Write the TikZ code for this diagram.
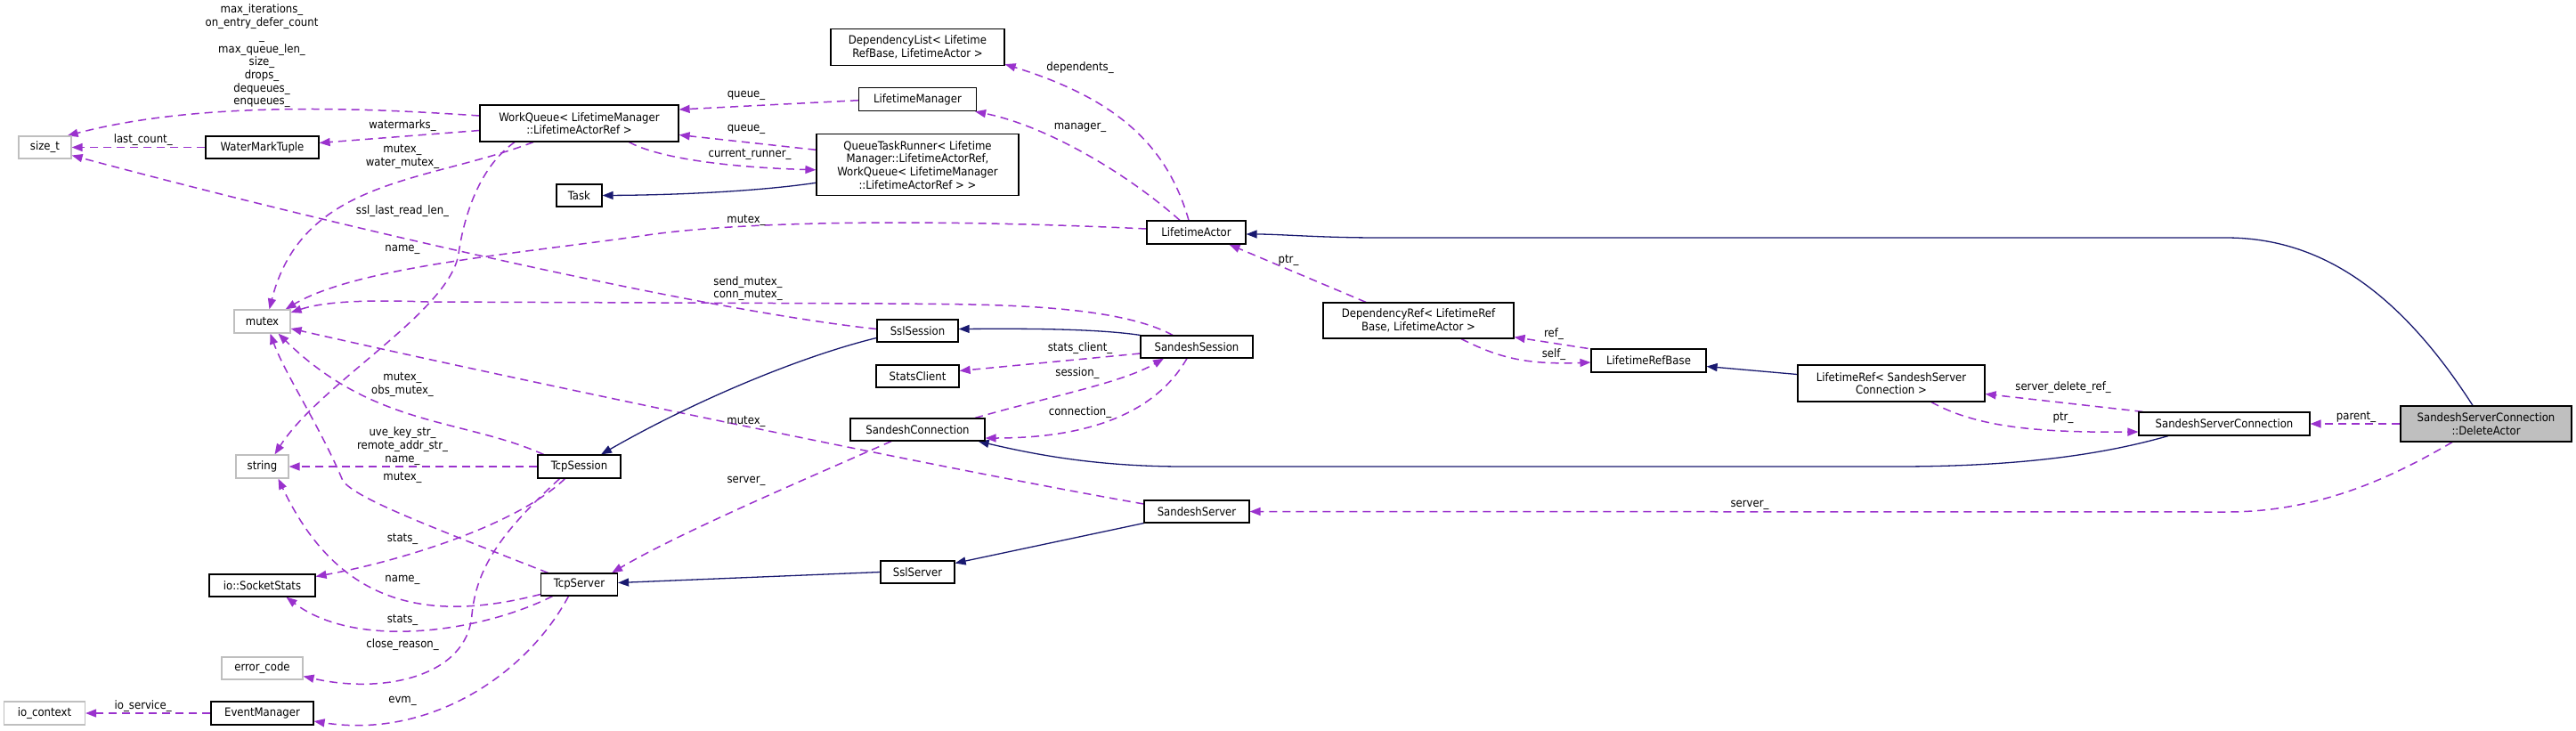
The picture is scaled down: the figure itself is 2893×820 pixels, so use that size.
\documentclass[tikz,border=0pt]{standalone}
\usepackage{fontspec}
\setmainfont{DejaVu Sans Condensed}
\usetikzlibrary{arrows.meta}
\definecolor{memc}{HTML}{9A32CD}
\definecolor{inhc}{HTML}{191970}
\definecolor{undoc}{HTML}{BFBFBF}
\pgfdeclarelayer{edges}
\pgfsetlayers{edges,main}
\begin{document}
\begin{tikzpicture}[x=1pt,y=-1pt,font=\fontsize{13}{14.7}\selectfont,
  cls/.style={draw=black,line width=1.2pt,fill=white,inner sep=0pt,align=center,text=black},
  und/.style={cls,draw=undoc},
  mem/.style={draw=memc,line width=1.5pt,dash pattern=on 9pt off 6pt,-{Triangle[length=12pt,width=9pt]}},
  inh/.style={draw=inhc,line width=1.3pt,-{Triangle[length=12pt,width=9pt]}},
  lbl/.style={inner sep=0pt,align=center,text=black}]
\useasboundingbox (0,0) rectangle (2893,820);
\begin{pgfonlayer}{edges}
\fill[white] (0,0) rectangle (2893,820);
\end{pgfonlayer}
% nodes
\node[und,minimum width=59pt,minimum height=25pt] (st) at (50.5,165.5) {size\_t};
\node[cls,minimum width=127pt,minimum height=25pt] (wmt) at (294.5,165.5) {WaterMarkTuple};
\node[cls,minimum width=223pt,minimum height=41pt] (wq) at (650.5,138.5) {WorkQueue< LifetimeManager\\::LifetimeActorRef >};
\node[cls,minimum width=51pt,minimum height=25pt] (task) at (650.5,219.5) {Task};
\node[und,minimum width=63pt,minimum height=26pt] (mtx) at (294.5,361) {mutex};
\node[und,minimum width=59pt,minimum height=26pt] (str) at (294.5,524) {string};
\node[cls,minimum width=93pt,minimum height=26pt] (tcps) at (650.5,524) {TcpSession};
\node[cls,minimum width=119pt,minimum height=25pt] (sock) at (294.5,657.5) {io::SocketStats};
\node[cls,minimum width=86pt,minimum height=25pt] (tcpsv) at (650.5,656.5) {TcpServer};
\node[und,minimum width=91pt,minimum height=25pt] (err) at (294.5,750.5) {error\_code};
\node[und,minimum width=91pt,minimum height=26pt] (ioc) at (50,801) {io\_context};
\node[cls,minimum width=115pt,minimum height=26pt] (evm) at (294.5,801) {EventManager};
\node[cls,minimum width=195pt,minimum height=41pt] (dl) at (1030.5,53) {DependencyList< Lifetime\\RefBase, LifetimeActor >};
\node[cls,minimum width=132pt,minimum height=26pt] (lm) at (1030.5,111.7) {LifetimeManager};
\node[cls,minimum width=227pt,minimum height=69pt] (qtr) at (1030.5,185.3) {QueueTaskRunner< Lifetime\\Manager::LifetimeActorRef,\\WorkQueue< LifetimeManager\\::LifetimeActorRef > >};
\node[cls,minimum width=111pt,minimum height=26pt] (la) at (1343.5,261) {LifetimeActor};
\node[cls,minimum width=91pt,minimum height=25pt] (ssl) at (1030.5,371.5) {SslSession};
\node[cls,minimum width=126pt,minimum height=25pt] (ss) at (1344,389.5) {SandeshSession};
\node[cls,minimum width=93pt,minimum height=25pt] (stc) at (1030.5,422.5) {StatsClient};
\node[cls,minimum width=151pt,minimum height=25pt] (sc) at (1030.5,482.5) {SandeshConnection};
\node[cls,minimum width=118pt,minimum height=25pt] (sserv) at (1344,574.5) {SandeshServer};
\node[cls,minimum width=83pt,minimum height=25pt] (sslsv) at (1030.5,642.5) {SslServer};
\node[cls,minimum width=214pt,minimum height=40pt] (dr) at (1593,360) {DependencyRef< LifetimeRef\\Base, LifetimeActor >};
\node[cls,minimum width=129pt,minimum height=26pt] (lrb) at (1851.5,405) {LifetimeRefBase};
\node[cls,minimum width=210pt,minimum height=41pt] (lr) at (2124,430.5) {LifetimeRef< SandeshServer\\Connection >};
\node[cls,minimum width=192pt,minimum height=26pt] (ssc) at (2498,476) {SandeshServerConnection};
\node[cls,fill=undoc,minimum width=192pt,minimum height=40pt] (da) at (2792,476) {SandeshServerConnection\\::DeleteActor};
\begin{pgfonlayer}{edges}
% member edges
\draw[mem] ([yshift=8.5pt]wq.west) .. controls (420,122) and (230,112) .. ([xshift=-5pt]st.north east);
\draw[mem] ([yshift=-8pt]wq.west) -- ([yshift=5pt]wmt.east);
\draw[mem] (wmt.west) -- (st.east);
\draw[mem] ([xshift=-51.5pt]wq.south) .. controls (480,205) and (340,200) .. ([xshift=8pt]mtx.north);
\draw[mem] ([xshift=-72.5pt]wq.south) .. controls (535,190) and (520,250) .. (515,285) .. controls (505,350) and (360,430) .. ([xshift=14pt]str.north);
\draw[mem] ([yshift=2pt]ssl.west) .. controls (800,350) and (400,260) .. ([yshift=-9pt]st.east);
\draw[mem] ([yshift=4pt]la.west) .. controls (1100,248) and (850,245) .. (720,265) .. controls (580,285) and (400,300) .. ([xshift=-6pt]mtx.north east);
\draw[mem] ([xshift=-27pt]ss.north) .. controls (1250,340) and (1100,342) .. (1000,341) -- (480,339) .. controls (400,336) and (360,340) .. ([yshift=10pt]mtx.east);
\draw[mem] ([yshift=8.5pt]sserv.west) .. controls (1050,525) and (550,420) .. ([yshift=-8pt]mtx.east);
\draw[mem] ([xshift=-40pt]tcps.north) .. controls (520,470) and (420,480) .. ([xshift=18pt]mtx.south);
\draw[mem] ([xshift=-35pt]tcpsv.north) .. controls (480,590) and (400,560) .. (385,540) .. controls (360,480) and (320,420) .. ([xshift=9pt]mtx.south);
\draw[mem] (tcps.west) -- (str.east);
\draw[mem] ([yshift=-11pt]tcpsv.west) .. controls (480,700) and (380,680) .. ([xshift=18pt]str.south);
\draw[mem] ([xshift=-16pt]tcps.south) .. controls (580,590) and (450,630) .. ([yshift=10pt]sock.east);
\draw[mem] ([xshift=-30pt]tcpsv.south) .. controls (540,710) and (400,730) .. ([xshift=27pt]sock.south);
\draw[mem] ([xshift=-22pt]tcps.south) .. controls (560,600) and (535,640) .. (530,690) .. controls (525,760) and (430,780) .. ([yshift=-9pt]err.east);
\draw[mem] ([xshift=-12pt]tcpsv.south) .. controls (590,760) and (480,830) .. ([yshift=-9pt]evm.east);
\draw[mem] (evm.west) -- (ioc.east);
\draw[mem] ([yshift=-1pt]lm.west) -- ([yshift=15.5pt]wq.east);
\draw[mem] ([yshift=17pt]qtr.west) -- ([yshift=-13pt]wq.east);
\draw[mem] ([xshift=56pt]wq.south) .. controls (740,178) and (820,188) .. ([yshift=-5.5pt]qtr.west);
\draw[mem] ([xshift=-8.5pt]la.north) .. controls (1310,160) and (1250,110) .. ([yshift=2pt]dl.south east);
\draw[mem] ([xshift=-18.5pt]la.north) .. controls (1260,190) and (1170,140) .. ([xshift=-2pt]lm.south east);
\draw[mem] ([xshift=-59pt]dr.north) -- ([xshift=37pt]la.south);
\draw[mem] ([xshift=-3pt]lrb.north west) -- ([yshift=2pt]dr.south east);
\draw[mem] ([xshift=48pt]dr.south) .. controls (1680,400) and (1710,410) .. ([yshift=-2pt]lrb.west);
\draw[mem] ([xshift=5pt]ssc.north west) -- ([yshift=-12pt]lr.east);
\draw[mem] ([xshift=45pt]lr.south) .. controls (2220,480) and (2290,486) .. ([yshift=-9pt]ssc.west);
\draw[mem] (da.west) -- (ssc.east);
\draw[mem] ([xshift=-38pt]da.south) .. controls (2680,540) and (2600,575) .. (2500,575) -- (sserv.east);
\draw[mem] ([yshift=-7.5pt]ss.west) -- ([yshift=6pt]stc.east);
\draw[mem] ([xshift=-11.5pt]sc.north east) .. controls (1180,445) and (1260,430) .. ([xshift=-37pt]ss.south);
\draw[mem] ([xshift=-11pt]ss.south) .. controls (1300,460) and (1230,492) .. ([yshift=-9.5pt]sc.east);
\draw[mem] ([xshift=-29.5pt]sc.south) .. controls (900,540) and (760,600) .. ([xshift=-7pt]tcpsv.north east);
% inheritance edges
\draw[inh] ([yshift=-20pt]qtr.west) .. controls (850,215) and (760,219) .. (task.east);
\draw[inh] ([yshift=10pt]lr.west) -- ([yshift=-6.5pt]lrb.east);
\draw[inh] ([xshift=-15pt]da.north) .. controls (2690,320) and (2600,267) .. (2500,267) -- (1550,267) .. controls (1480,267) and (1440,263) .. ([yshift=-2pt]la.east);
\draw[inh] ([xshift=-63pt]ssc.south) .. controls (2370,508) and (2280,524) .. (2130,524) -- (1330,524) .. controls (1230,524) and (1160,510) .. ([xshift=-8pt]sc.south east);
\draw[inh] (ss.north west) .. controls (1230,369) and (1150,369) .. ([yshift=2pt]ssl.east);
\draw[inh] ([yshift=-8pt]ssl.west) .. controls (900,400) and (780,450) .. ([xshift=24.5pt]tcps.north);
\draw[inh] (sserv.south west) -- ([yshift=10pt]sslsv.east);
\draw[inh] (sslsv.west) -- ([yshift=2pt]tcpsv.east);
\end{pgfonlayer}
% labels
\node[lbl] (l01) at (294,63) {max\_iterations\_\\on\_entry\_defer\_count\\\_\\max\_queue\_len\_\\size\_\\drops\_\\dequeues\_\\enqueues\_};
\node[lbl] (l02) at (452,141) {watermarks\_};
\node[lbl] (l03) at (160.7,157) {last\_count\_};
\node[lbl] (l04) at (452,176) {mutex\_\\water\_mutex\_};
\node[lbl] (l05) at (452,237) {ssl\_last\_read\_len\_};
\node[lbl] (l06) at (452,280) {name\_};
\node[lbl] (l07) at (452,432) {mutex\_\\obs\_mutex\_};
\node[lbl] (l08) at (452,501) {uve\_key\_str\_\\remote\_addr\_str\_\\name\_};
\node[lbl] (l09) at (452,536) {mutex\_};
\node[lbl] (l10) at (452,605) {stats\_};
\node[lbl] (l11) at (452,651) {name\_};
\node[lbl] (l12) at (452,696) {stats\_};
\node[lbl] (l13) at (452,724) {close\_reason\_};
\node[lbl] (l14) at (452,787) {evm\_};
\node[lbl] (l15) at (160.7,793) {io\_service\_};
\node[lbl] (l16) at (838,107) {queue\_};
\node[lbl] (l17) at (838,145) {queue\_};
\node[lbl] (l18) at (842,173) {current\_runner\_};
\node[lbl] (l19) at (1213,76) {dependents\_};
\node[lbl] (l20) at (1213,143) {manager\_};
\node[lbl] (l21) at (838,247) {mutex\_};
\node[lbl] (l22) at (1447,292) {ptr\_};
\node[lbl] (l23) at (840,324) {send\_mutex\_\\conn\_mutex\_};
\node[lbl] (l24) at (1213,391) {stats\_client\_};
\node[lbl] (l25) at (1210,419) {session\_};
\node[lbl] (l26) at (1213,463) {connection\_};
\node[lbl] (l27) at (838,473) {mutex\_};
\node[lbl] (l28) at (838,540) {server\_};
\node[lbl] (l29) at (1745,375) {ref\_};
\node[lbl] (l30) at (1745,398) {self\_};
\node[lbl] (l31) at (1965,567) {server\_};
\node[lbl] (l32) at (2317,435) {server\_delete\_ref\_};
\node[lbl] (l33) at (2317,469) {ptr\_};
\node[lbl] (l34) at (2646,468) {parent\_};
\end{tikzpicture}
\end{document}
